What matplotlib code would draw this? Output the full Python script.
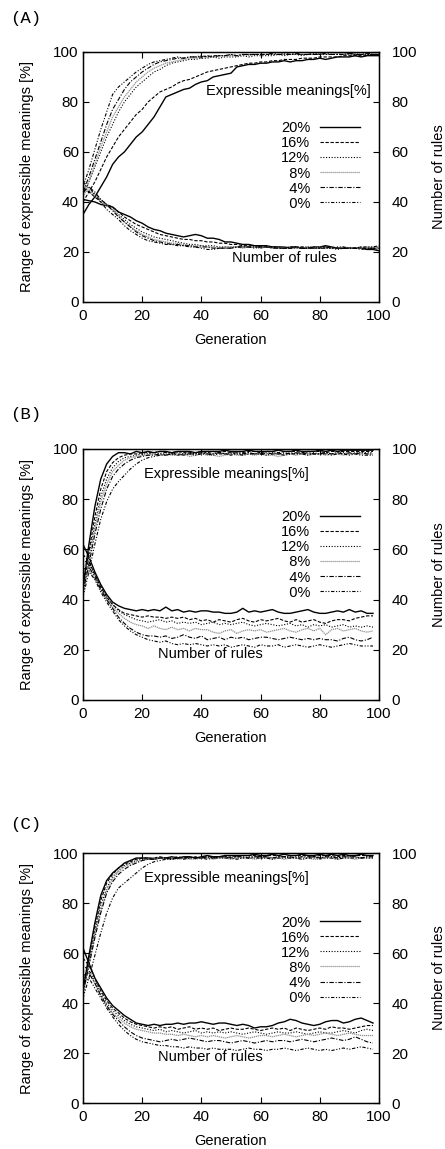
import matplotlib
matplotlib.use("Agg")
import matplotlib.pyplot as plt

plt.rcParams['font.family'] = ['Liberation Sans', 'DejaVu Sans']

rates = ["20%", "16%", "12%", "8%", "4%", "0%"]
gen_a = list(range(0, 101, 2))
gen_bc = list(range(0, 99, 2))

# ---------------- Panel A ----------------
A_em_20 = [35,39,42,46,50,55,58,60,63,66,68,71,74,78,82,83,84,85,85.5,87,88,88.5,90,90.5,91,91.5,94,94.5,95,95,95.5,95.5,96,96,96.5,96,96.5,96.5,97,97,97.5,97,97.5,98,98,98,98.5,98,98.5,98.5,98.5]
A_em_16 = [40,44,48,53,58,62,66,69,72,75,77,80,82,84,85,86,87.5,88.5,89,90,91,92,92.5,93,93.5,94,94.5,95,95.5,95.5,96,96,96.5,96.5,97,97,97,97.5,97.5,97.5,98,98,98,98,98.5,98.5,98.5,98.5,98.5,99,99]
A_em_12 = [43,48,54,60,66,71,76,80,83,86,88,90,92,93,94.5,95.5,96,96.5,97,97,97.5,97.5,98,97.5,98,98,98,98.5,98,98.5,98.5,98.5,98.5,99,98.5,99,99,98.5,99,99,99,99,99,99,99,99,99,99,99,99,99]
A_em_8 = [42,48,55,62,68,74,78,82,85,88,90,92,93.5,94.5,95.5,96,96.5,97,97.5,97.5,98,98,98,98.5,98.5,98.5,98.5,99,98.5,99,99,99,99,99,99,99,99,99,99,99,99.5,99,99,99.5,99,99,99.5,99,99.5,99,99]
A_em_4 = [44,50,57,64,71,77,81,85,88,90,92,93.5,95,96,96.5,97,97.5,97.5,98,98,98,98.5,98,98.5,98.5,99,98.5,99,99,99,99,99,99.5,99,99,99,99.5,99,99,99,99,99.5,99,99,99,99.5,99,99,99.5,99,99]
A_em_0 = [46,53,61,69,76,83,86,88,90,92,93.5,95,96,96.5,97,97.5,98,97.5,98,98,98.5,98,98.5,98.5,98.5,99,98.5,99,99,99,99,99,99,99,99.5,99,99,99,99,99.5,99,99,99,99,99,99.5,99,99,99,99,99]

A_r_20 = [41,40.5,40,39,38.5,38,36,35,34,32.5,31.5,30,29,28.5,27.5,27,26.5,26,26.5,27,26.5,25.5,25.5,25,24,24,23.5,23,23,22.5,22.5,22.5,22,22,22,21.5,22,21.5,21.5,22,22,22.5,22,21.5,21.5,21.5,21.5,21.5,21,21,20.5]
A_r_16 = [45,44,42,40,39,38,36,34,32.5,31,30,29,28,27,26.5,26,25.5,25,25,24.5,24.5,24,24,23.5,23.5,23,23,22.5,22.5,22.5,22,22,22,22,21.5,21.5,22,21.5,21.5,21.5,22,22,22,21.5,21.5,21.5,21.5,22,21.5,21.5,21.5]
A_r_12 = [47,44,43,41,39,37,35,33,31,29.5,28,27,26,25.5,25,24.5,24,23.5,23,23,22.5,22.5,22.5,22,22,22,22,22,22,22,21.5,22,22,21.5,21.5,21.5,21.5,21.5,22,22,21.5,21.5,21.5,21,21.5,21.5,21.5,21.5,21.5,21.5,22]
A_r_8 = [43,45,43,41,38.5,37,34.5,32,30,28.5,27,26,25,24.5,24,23.5,23.5,23,22.5,22.5,22.5,22,22,21.5,22,22,22,21.5,22,22,21.5,22,21.5,21.5,22,22,21.5,22,21.5,21.5,22,21.5,21.5,21.5,22,21.5,21.5,21.5,22,22,22]
A_r_4 = [44,46,44,41,39,36.5,34,32,30,28,26.5,25.5,24.5,24,23.5,23,23,22.5,22.5,22,22,22,21.5,21.5,21.5,21.5,22,22,22,22,22,22,21.5,21.5,21.5,22,22,21.5,21.5,21.5,21.5,22,21.5,21.5,21.5,21.5,21.5,21,21.5,21.5,21]
A_r_0 = [48,46,43,40,37,35,33,30.5,28.5,27,25.5,24.5,24,23.5,23,23,22.5,22.5,22,22,21.5,21,21,21.5,21.5,21.5,22,22,22,21.5,22,22,22,21.5,21.5,22,22,22,22,21.5,21.5,21.5,21.5,22,22,21.5,21.5,22,22,22,22.5]

# ---------------- Panel B ----------------
B_em_20 = [45,62,77,88,94,97,98.5,98.5,98,99,98.5,99,98.5,99,99,98.5,99,99,99,98.5,99,99,99,99,99.5,99,99,99,99.5,99,99,99,99,99.5,99,99,99.5,99,99,99,99.5,99,99.5,99,99.5,99.5,99.5,99.5,99.5,99.5]
B_em_16 = [44,59,73,84,91,94.5,96.5,97.5,98,98,98.5,98.5,98.5,99,98.5,98.5,99,98.5,98.5,98.5,99,98.5,99,98.5,99,98.5,99,98.5,99,99,98.5,99,99,98.5,99,99,99,98.5,99,99,99,98.5,99,99,99,99,99,99,99,99]
B_em_12 = [43,57,70,81,88,92.5,95,96.5,97,97.5,98,98,98.5,98,98.5,98,98.5,98,98.5,98,98.5,98,98,98.5,98,98.5,98,98,98.5,98,98.5,98,98.5,98,98,98.5,98,98.5,98,98.5,98,98.5,98,98.5,98.5,98,98.5,98.5,98.5,98.5]
B_em_8 = [42,55,68,79,86,91,93.5,95.5,96.5,97,97.5,97.5,98,97.5,98,97.5,97.5,98,97,97.5,98,97.5,97.5,97,97.5,98,97.5,97.5,98,97.5,98,97.5,97.5,97,97.5,98,97.5,98,97.5,98,98,97.5,98,98,97.5,98,98,98,98,98]
B_em_4 = [43,54,66,76,84,89,92,94,95.5,96.5,97,97.5,97.5,98,97.5,98,98,97.5,98,98,98.5,98,98,98.5,98,98,98.5,98,98.5,98,98,98.5,98,98,98.5,98,98.5,98,98.5,98,98,98.5,98,98.5,98,98.5,98,98.5,98,98]
B_em_0 = [41,51,62,72,79,84,87,89.5,92,94,95.5,96.5,97,97.5,97.5,98,97.5,98,98,97.5,98,98,97.5,98,98,97.5,98,97.5,98,98,98,97.5,98,98,97.5,98,98,98,97.5,98,98,98,97.5,98,98,97.5,98,97.5,97.5,97.5]

B_r_20 = [62,57,51,46,42,39,37.5,36.5,36,35.5,36,35.5,36,35.5,37,35.5,36,35,35.5,35,35.5,35.5,35,35,34.5,34.5,35,36.5,35,35.5,35,35.5,36,35,34.5,34.5,35,35.5,36,35,34.5,34.5,35,35.5,35,36,35,35.5,34.5,34.5]
B_r_16 = [58,55,50,45,41,38,36,34.5,34,33.5,33,33.5,33,33,32.5,33,32.5,33,32,32.5,31.5,32,31,32,31.5,31,32,32.5,31.5,31,32,31.5,32,32.5,31.5,31,32,31,31.5,32,31,30.5,31.5,32,32,31.5,32.5,33,33.5,33.5]
B_r_12 = [56,54,50,45,41,38,35.5,34,33,32,31.5,31,31.5,32,31,31.5,30.5,31,30.5,31,30,30.5,31,30,30.5,30,30.5,31,30,29.5,30,30.5,30,29.5,30,30.5,29.5,30,29,30,29.5,30,29,29.5,30,29,29.5,29,29.5,29]
B_r_8 = [54,52,48,44,40,37,34.5,32.5,31,30,29.5,28.5,29.5,28.5,28,29,28,28.5,27.5,28.5,28,28,27,26.5,27.5,28,26.5,27.5,28,27.5,28,27,27.5,28,28.5,27.5,27,28,28.5,27.5,28.5,26,28,28.5,27.5,28,28.5,27.5,27,27.5]
B_r_4 = [52,53,49,44,40,36.5,33,30.5,28.5,27,26,25.5,25.5,25,25.5,24.5,25,26,25,24.5,25.5,24,24.5,25,24,25,24.5,25,24,24.5,25,25,24.5,24,24.5,25,24.5,24,24.5,24,24.5,24,24,23.5,24.5,25,24,23.5,24,25]
B_r_0 = [50,51,48,43,39,35.5,32,29.5,27.5,26,25,24,23.5,23,23.5,22.5,22,22.5,22,22.5,22,21.5,22,21.5,22,21,21.5,22,21.5,21,22,21.5,21.5,22,21,21.5,22,21.5,21,21.5,22,21.5,21,21.5,22,22.5,22,21.5,21.5,21.5]

# ---------------- Panel C ----------------
C_em_20 = [45,59,72,83,89,92,94,96,97,98,98,98,97.5,98,98,98.5,98,98.5,98.5,98,98.5,99,98.5,98.5,99,99,99,99,99,99.5,99,99,99.5,99,99.5,99,99,99.5,99,99,99.5,99,99.5,99,99.5,99,99,99.5,99,99]
C_em_16 = [46,58,70,81,88,91.5,94,95.5,96.5,97.5,98,98,98,98.5,98,98,98.5,98,98,98.5,98,98.5,98.5,98.5,98.5,99,98.5,99,99,99,98.5,99,99,99,98.5,99,99,99,99,98.5,99,99,99,98.5,99,99,99,99,99,99]
C_em_12 = [44,56,68,79,86,90.5,93,95,96,97,97.5,97.5,98,98,98,97.5,98,98,98.5,98,98,98.5,98,98.5,98,98.5,98.5,98,98.5,98.5,98,98.5,98,98.5,98.5,98,98.5,98.5,98,98.5,98,98.5,98.5,98,98.5,98.5,98.5,98,98.5,98.5]
C_em_8 = [43,55,67,77,85,89.5,92.5,94.5,95.5,96.5,97,97.5,97.5,98,97.5,98,97.5,98,97.5,97.5,98,98,97.5,98,98,97.5,98,98,98,97.5,98,98,97.5,98,97.5,98,98,97.5,98,97.5,97.5,98,98,97.5,98,98,97.5,98,98,98]
C_em_4 = [44,55,66,76,84,88.5,91.5,93.5,95,96,97,97.5,97.5,98,98,97.5,98,98,98.5,98,98,98.5,98,98.5,98.5,98,98.5,98.5,98,98.5,98.5,98.5,98,98.5,98.5,98.5,98,98.5,98.5,98.5,98,98.5,98.5,98,98.5,98.5,98.5,98,98.5,98.5]
C_em_0 = [42,50,59,68,76,82,86,88,90,92,94,95.5,96.5,97,97.5,97.5,98,97.5,98,98,98,97.5,98,98,98,98,97.5,98,98,98,98,98,97.5,98,98,98,98,97.5,98,98,98,98,98,97.5,98,98,98,98,98,98]

C_r_20 = [62,56,50,46,42,39,37,35,33.5,32,31.5,31,31.5,31,31.5,31.5,32,31.5,32,32,32.5,32,31.5,32,32,31.5,31,31.5,31,30,30.5,30.5,31,32,32.5,33.5,33,32,31.5,31,31.5,32.5,33,33,32,32.5,33.5,34,33,32]
C_r_16 = [58,55,50,45,41,38,36,34,32.5,31.5,31,30.5,30,30.5,30,30.5,29.5,30,30.5,29.5,30,29.5,30,29,29.5,30,29.5,29.5,30,29.5,29,29.5,30,29.5,30,29,30,29.5,29,29.5,30,29.5,30.5,30,30,29.5,30,30.5,31,31]
C_r_12 = [55,53,49,44,40,37,35,33,31.5,30.5,30,29.5,29,29.5,28.5,29,28.5,28,28.5,29,28,28.5,28,28.5,28,28.5,28,27.5,28,28.5,28,27.5,28,28.5,28,28,28.5,28,27.5,28,28.5,28,28,28.5,29,28.5,28,29,29.5,29]
C_r_8 = [53,52,48,43,39,36,34,32,30.5,29.5,29,28.5,28,28,27.5,27.5,27,27.5,27,26.5,27,26.5,27,26.5,26,26.5,27,26.5,26,26.5,27,27,26.5,27,27.5,27,26.5,27,27.5,27,27.5,28,27.5,27,27.5,28,27.5,27,27,27]
C_r_4 = [51,52,48,43,39,35.5,33,30.5,28.5,27,26,25.5,25,24.5,25,25.5,25,25.5,26,25.5,25,24.5,25,25,24.5,24,24.5,25,24.5,24,24.5,25,24.5,25,25,24.5,25,25.5,25,24.5,25,25.5,26,25.5,25,25.5,26.5,25.5,24.5,24]
C_r_0 = [48,50,46,42,38,34.5,31.5,29,27,25.5,24.5,24,23.5,23,23,22.5,22.5,22,22.5,22,22,21.5,22,21.5,21.5,21.5,21,21.5,22,21.5,21.5,21,21.5,21.5,22,21.5,21,21.5,22,21.5,21,21.5,21,21.5,22,21.5,22,22.5,22,21.5]

x_ticks = [0, 20, 40, 60, 80, 100]
y_ticks = [0, 20, 40, 60, 80, 100]
labels_panel = ["(A)", "(B)", "(C)"]

panels = [
    dict(gen=gen_a, em=[A_em_20, A_em_16, A_em_12, A_em_8, A_em_4, A_em_0],
         rules=[A_r_20, A_r_16, A_r_12, A_r_8, A_r_4, A_r_0],
         rect=[0.1865, 0.7372, 0.665, 0.2176], em_txt=(69.3, 84.5), r_txt=(67.9, 17.6),
         leg_top=0.722, lab_y=1149 - 18),
    dict(gen=gen_bc, em=[B_em_20, B_em_16, B_em_12, B_em_8, B_em_4, B_em_0],
         rules=[B_r_20, B_r_16, B_r_12, B_r_8, B_r_4, B_r_0],
         rect=[0.1865, 0.3908, 0.665, 0.2185], em_txt=(48.3, 89.9), r_txt=(42.9, 18.3),
         leg_top=0.755, lab_y=1149 - 415),
    dict(gen=gen_bc, em=[C_em_20, C_em_16, C_em_12, C_em_8, C_em_4, C_em_0],
         rules=[C_r_20, C_r_16, C_r_12, C_r_8, C_r_4, C_r_0],
         rect=[0.1865, 0.0400, 0.665, 0.2176], em_txt=(48.3, 89.9), r_txt=(42.9, 18.5),
         leg_top=0.75, lab_y=1149 - 825),
]

styles = [
    dict(color='black', ls='-', lw=1.0),
    dict(color='black', ls=(0, (3, 1.5)), lw=0.8),
    dict(color='black', ls=(0, (1, 1.5)), lw=0.8),
    dict(color='#909090', ls=(0, (1, 0.6)), lw=0.9),
    dict(color='black', ls=(0, (4, 1.5, 1, 1.5)), lw=0.8),
    dict(color='black', ls=(0, (3, 1.5, 1, 1.5, 1, 1.5)), lw=0.8),
]
leg_labels = ["20%", "16%", "12%", "  8%", "  4%", "  0%"]

fig = plt.figure(figsize=(4.45, 11.49), dpi=100)

for i, p in enumerate(panels):
    ax = fig.add_axes(p['rect'])
    handles = []
    for k in range(6):
        h, = ax.plot(p['gen'], p['em'][k], **styles[k])
        handles.append(h)
        ax.plot(p['gen'], p['rules'][k], **styles[k])
    ax.set_xlim(0, 100)
    ax.set_ylim(0, 100)
    ax.set_xticks(x_ticks)
    ax.set_yticks(y_ticks)
    ax.tick_params(direction='in', length=4, width=0.8, labelsize=11, top=True, right=False)
    ax.tick_params(axis='y', pad=3)
    ax.tick_params(axis='x', pad=5)
    for s in ax.spines.values():
        s.set_linewidth(1.0)
    ax.set_xlabel("Generation", fontsize=10.5, labelpad=7)
    ax.set_ylabel("Range of expressible meanings [%]", fontsize=10.5, labelpad=14)
    ax2 = ax.twinx()
    ax2.set_ylim(0, 100)
    ax2.set_yticks(y_ticks)
    ax2.tick_params(direction='in', length=4, width=0.8, labelsize=11, pad=9)
    ax2.set_ylabel("Number of rules", fontsize=10.5, labelpad=11)
    ax2.yaxis.label.set_rotation(90)
    ax.text(p['em_txt'][0], p['em_txt'][1], "Expressible meanings[%]", fontsize=10.5,
            ha='center', va='center')
    ax.text(p['r_txt'][0], p['r_txt'][1], "Number of rules", fontsize=10.5,
            ha='center', va='center')
    ax.legend(handles, leg_labels, loc='upper right', bbox_to_anchor=(0.935, p['leg_top']),
              frameon=False, markerfirst=False, fontsize=10.5, handlelength=2.7,
              handletextpad=0.7, labelspacing=0.07, borderpad=0, borderaxespad=0)
    fig.text(10 / 445, p['lab_y'] / 1149, labels_panel[i], family='Liberation Mono',
             fontsize=12.5, ha='left', va='center')

fig.savefig("out.png", dpi=100)
